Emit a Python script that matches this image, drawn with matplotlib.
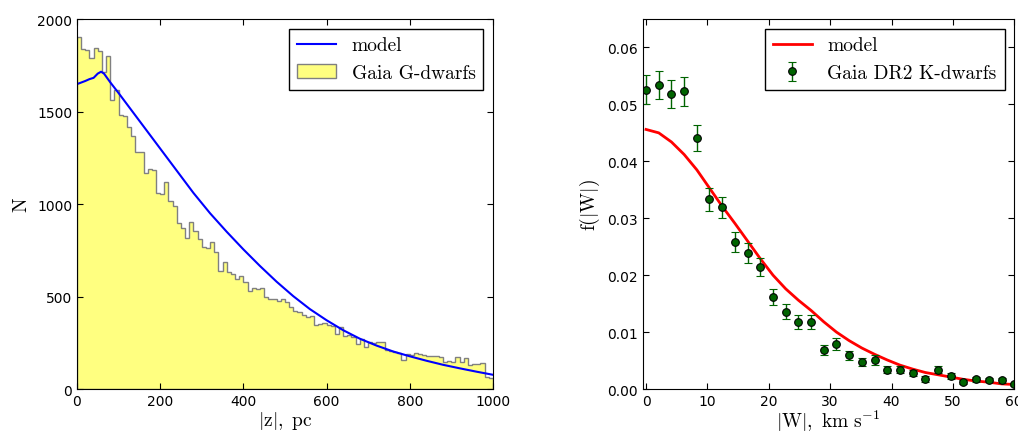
import numpy as np
import matplotlib
matplotlib.use("Agg")
import matplotlib.pyplot as plt
from matplotlib.ticker import FormatStrFormatter

plt.rcParams["mathtext.fontset"] = "cm"
plt.rcParams["font.size"] = 10
plt.rcParams["xtick.direction"] = "in"
plt.rcParams["ytick.direction"] = "in"
plt.rcParams["xtick.top"] = True
plt.rcParams["ytick.right"] = True
plt.rcParams["xtick.major.size"] = 4
plt.rcParams["ytick.major.size"] = 4

# --- vertical distribution of G dwarfs (10 pc bins) ---
z_bin_width = 10
z_counts = [
    1901, 1838, 1834, 1787, 1845, 1825, 1712, 1802, 1564, 1615,
    1481, 1475, 1414, 1366, 1283, 1280, 1170, 1190, 1185, 1058,
    1055, 1117, 1015, 990, 895, 868, 816, 901, 856, 811,
    769, 760, 793, 739, 640, 688, 631, 622, 595, 613,
    577, 532, 544, 541, 544, 495, 486, 486, 477, 486,
    472, 441, 423, 414, 400, 387, 393, 346, 351, 357,
    346, 339, 297, 333, 288, 292, 279, 243, 270, 225,
    252, 249, 252, 256, 213, 207, 202, 195, 159, 189,
    184, 195, 189, 184, 180, 180, 177, 175, 148, 150,
    144, 171, 144, 168, 132, 135, 135, 139, 63, 59,
]
model_z = [0, 20, 30, 40, 50, 58, 65, 80, 100, 120, 160, 200, 240, 280,
           320, 360, 400, 440, 480, 520, 560, 600, 640, 680, 720, 760,
           800, 840, 880, 920, 960, 1000]
model_n = [1648, 1665, 1675, 1682, 1705, 1715, 1705, 1658, 1600, 1540,
           1420, 1300, 1180, 1060, 950, 850, 755, 665, 580, 502, 432,
           372, 318, 272, 235, 203, 177, 153, 131, 112, 94, 77]

# --- |W| velocity distribution of K dwarfs ---
w_abs = [0.0, 2.07, 4.14, 6.21, 8.28, 10.34, 12.41, 14.48, 16.55, 18.62,
         20.69, 22.76, 24.83, 26.9, 28.97, 31.03, 33.1, 35.17, 37.24,
         39.31, 41.38, 43.45, 45.52, 47.59, 49.66, 51.72, 53.79, 55.86,
         57.93, 60.0]
f_w = [0.0526, 0.0534, 0.0518, 0.0523, 0.0441, 0.0333, 0.0319, 0.0258,
       0.0239, 0.0214, 0.0161, 0.0136, 0.0118, 0.0118, 0.0069, 0.0079,
       0.0059, 0.0047, 0.0051, 0.0034, 0.0034, 0.0028, 0.0018, 0.0034,
       0.0023, 0.0012, 0.0017, 0.0016, 0.0015, 0.0008]
f_w_err = [0.0025, 0.0025, 0.0025, 0.0025, 0.0023, 0.0020, 0.0019, 0.0017,
           0.0017, 0.0016, 0.0014, 0.0013, 0.0012, 0.0012, 0.0009, 0.0010,
           0.0008, 0.0007, 0.0008, 0.0006, 0.0006, 0.0006, 0.0005, 0.0006,
           0.0005, 0.0004, 0.0004, 0.0004, 0.0004, 0.0003]
f_w_model = [0.0456, 0.0450, 0.0434, 0.0412, 0.0385, 0.0353, 0.0321,
             0.0291, 0.0260, 0.0229, 0.0200, 0.0176, 0.0156, 0.0138,
             0.0118, 0.0100, 0.0085, 0.0072, 0.0061, 0.0051, 0.0042,
             0.0035, 0.0029, 0.0025, 0.0021, 0.0017, 0.0014, 0.0012,
             0.0009, 0.0008]

legend_font = {"family": "cmr10", "size": 14}
label_size = 14

fig = plt.figure(figsize=(10.18, 4.35), dpi=100)
ax1 = fig.add_axes([0.0756, 0.1034, 0.4086, 0.8506])
ax2 = fig.add_axes([0.6316, 0.1034, 0.3647, 0.8506])

# left: histogram + model
edges = np.arange(0, 1000 + z_bin_width, z_bin_width)
centers = edges[:-1] + z_bin_width / 2
ax1.hist(centers, bins=edges, weights=z_counts, histtype="stepfilled",
         facecolor="#ffff80", edgecolor="#808080", linewidth=1,
         label="Gaia G-dwarfs")
ax1.plot(model_z, model_n, color="blue", lw=1.5, label="model")
ax1.set_xlim(0, 1000)
ax1.set_ylim(0, 2000)
ax1.set_xticks([0, 200, 400, 600, 800, 1000])
ax1.set_yticks([0, 500, 1000, 1500, 2000])
ax1.set_xlabel(r"$|\mathrm{z}|,\ \mathrm{pc}$", fontsize=label_size,
               labelpad=1)
ax1.set_ylabel(r"$\mathrm{N}$", fontsize=label_size)
h, l = ax1.get_legend_handles_labels()
ax1.legend(h[::-1], l[::-1], loc="upper right", prop=legend_font,
           fancybox=False, edgecolor="black", framealpha=1)

# right: |W| distribution
ax2.plot(w_abs, f_w_model, color="red", lw=2, label="model")
ax2.errorbar(w_abs, f_w, yerr=f_w_err, fmt="o", color="darkgreen",
             markerfacecolor="darkgreen", markeredgecolor="black",
             markersize=5.5, markeredgewidth=0.8, ecolor="darkgreen",
             elinewidth=1, capsize=3, capthick=1,
             label="Gaia DR2 K-dwarfs")
ax2.set_xlim(-0.5, 60)
ax2.set_ylim(0, 0.065)
ax2.set_xticks([0, 10, 20, 30, 40, 50, 60])
ax2.set_yticks([0.0, 0.01, 0.02, 0.03, 0.04, 0.05, 0.06])
ax2.yaxis.set_major_formatter(FormatStrFormatter("%.2f"))
ax2.set_xlabel(r"$|\mathrm{W}|,\ \mathrm{km\ s}^{-1}$", fontsize=label_size,
               labelpad=0)
ax2.set_ylabel(r"$\mathrm{f}(|\mathrm{W}|)$", fontsize=label_size)
ax2.legend(loc="upper right", prop=legend_font, numpoints=1,
           fancybox=False, edgecolor="black", framealpha=1)

fig.savefig("out.png", dpi=100)
